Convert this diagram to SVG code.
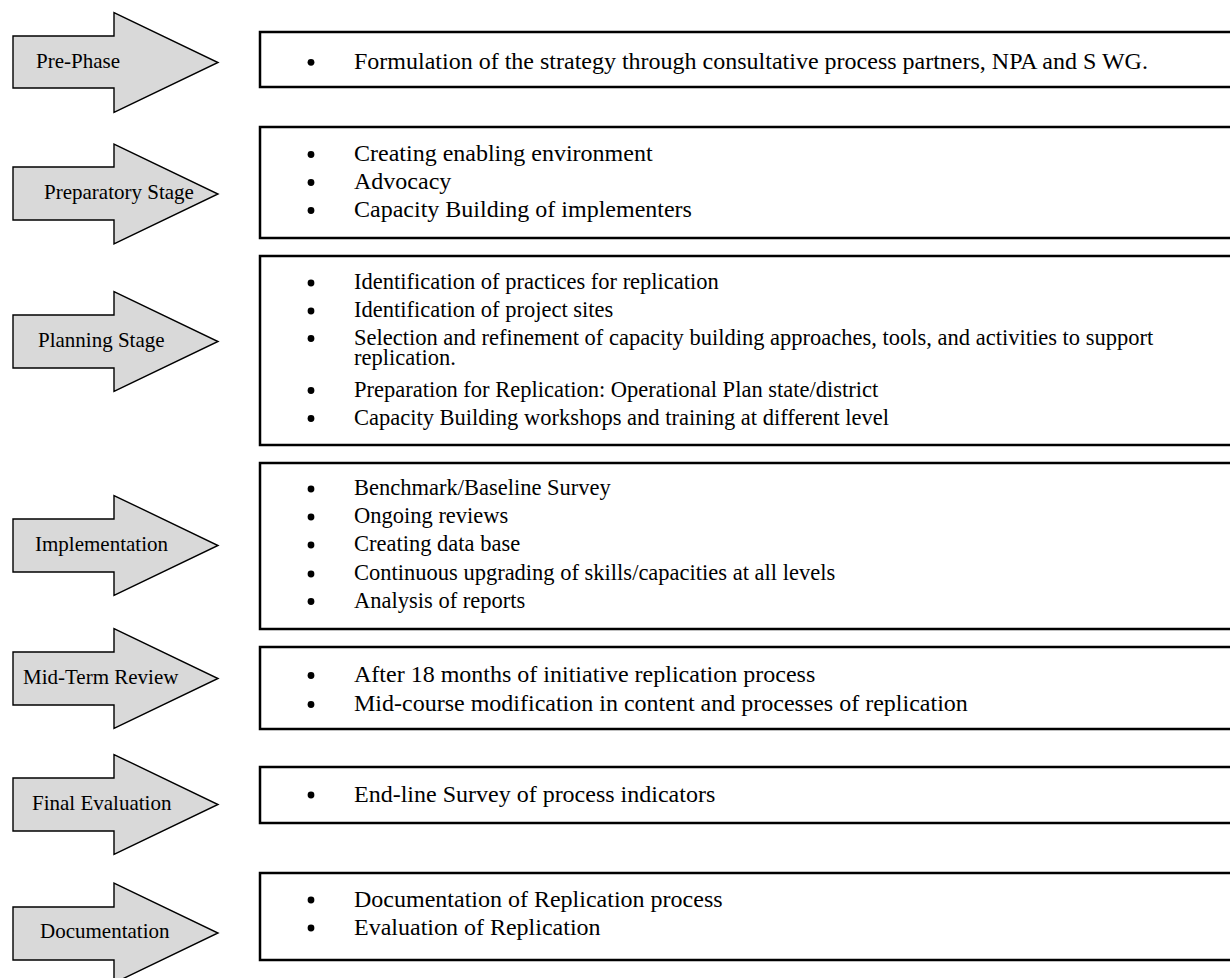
<svg xmlns="http://www.w3.org/2000/svg" width="1230" height="978" viewBox="0 0 1230 978">
<style>
  .arrow { fill: #d9d9d9; stroke: #000; stroke-width: 1.4; stroke-linejoin: miter; }
  .box { fill: #fff; stroke: #000; stroke-width: 2.5; }
  .lbl { font-family: "Liberation Serif", "Times New Roman", serif; font-size: 21px; fill: #000; }
  .txt { font-family: "Liberation Serif", "Times New Roman", serif; font-size: 24px; fill: #000; }
  .txs { font-family: "Liberation Serif", "Times New Roman", serif; font-size: 22.5px; fill: #000; }
  .bul { fill: #000; }
</style>
<rect x="0" y="0" width="1230" height="978" fill="#fff"/>

<g id="phase-pre">
  <path class="arrow" d="M13,36 L114,36 L114,12.5 L218,62.5 L114,112.5 L114,88 L13,88 Z"/>
  <text class="lbl" x="36" y="68">Pre-Phase</text>
</g>
<g id="box-pre">
  <rect class="box" x="260" y="32" width="990" height="55"/>
  <circle class="bul" cx="311" cy="62.3" r="3.4"/>
  <text class="txt" x="354" y="69">Formulation of the strategy through consultative process partners, NPA and S WG.</text>
</g>

<g id="phase-preparatory">
  <path class="arrow" d="M13,167 L114,167 L114,144 L218,194 L114,244 L114,220 L13,220 Z"/>
  <text class="lbl" x="44" y="199">Preparatory Stage</text>
</g>
<g id="box-preparatory">
  <rect class="box" x="260" y="127" width="990" height="111"/>
  <circle class="bul" cx="311" cy="154.5" r="3.4"/>
  <text class="txt" x="354" y="161">Creating enabling environment</text>
  <circle class="bul" cx="311" cy="182.5" r="3.4"/>
  <text class="txt" x="354" y="189">Advocacy</text>
  <circle class="bul" cx="311" cy="210.5" r="3.4"/>
  <text class="txt" x="354" y="217">Capacity Building of implementers</text>
</g>

<g id="phase-planning">
  <path class="arrow" d="M13,315 L114,315 L114,291.5 L218,341.5 L114,391.5 L114,368 L13,368 Z"/>
  <text class="lbl" x="38" y="347">Planning Stage</text>
</g>
<g id="box-planning">
  <rect class="box" x="260" y="256" width="990" height="189"/>
  <circle class="bul" cx="311" cy="283" r="3.4"/>
  <text class="txs" x="354" y="289">Identification of practices for replication</text>
  <circle class="bul" cx="311" cy="311" r="3.4"/>
  <text class="txs" x="354" y="317">Identification of project sites</text>
  <circle class="bul" cx="311" cy="338.5" r="3.4"/>
  <text class="txs" x="354" y="344.5">Selection and refinement of capacity building approaches, tools, and activities to support<tspan x="354" dy="20">replication.</tspan></text>
  <circle class="bul" cx="311" cy="390.5" r="3.4"/>
  <text class="txs" x="354" y="396.5">Preparation for Replication: Operational Plan state/district</text>
  <circle class="bul" cx="311" cy="418.5" r="3.4"/>
  <text class="txs" x="354" y="424.5">Capacity Building workshops and training at different level</text>
</g>

<g id="phase-implementation">
  <path class="arrow" d="M13,519 L114,519 L114,495.5 L218,545.5 L114,595.5 L114,572 L13,572 Z"/>
  <text class="lbl" x="35" y="551">Implementation</text>
</g>
<g id="box-implementation">
  <rect class="box" x="260" y="463" width="990" height="166"/>
  <circle class="bul" cx="311" cy="489" r="3.4"/>
  <text class="txs" x="354" y="495">Benchmark/Baseline Survey</text>
  <circle class="bul" cx="311" cy="517" r="3.4"/>
  <text class="txs" x="354" y="523">Ongoing reviews</text>
  <circle class="bul" cx="311" cy="545" r="3.4"/>
  <text class="txs" x="354" y="551">Creating data base</text>
  <circle class="bul" cx="311" cy="574" r="3.4"/>
  <text class="txs" x="354" y="580">Continuous upgrading of skills/capacities at all levels</text>
  <circle class="bul" cx="311" cy="601.5" r="3.4"/>
  <text class="txs" x="354" y="607.5">Analysis of reports</text>
</g>

<g id="phase-midterm">
  <path class="arrow" d="M13,652 L114,652 L114,628.5 L218,678.5 L114,728.5 L114,705 L13,705 Z"/>
  <text class="lbl" x="23" y="684">Mid-Term Review</text>
</g>
<g id="box-midterm">
  <rect class="box" x="260" y="647" width="990" height="82"/>
  <circle class="bul" cx="311" cy="675.5" r="3.4"/>
  <text class="txt" x="354" y="682">After 18 months of initiative replication process</text>
  <circle class="bul" cx="311" cy="704.5" r="3.4"/>
  <text class="txt" x="354" y="711">Mid-course modification in content and processes of replication</text>
</g>

<g id="phase-final">
  <path class="arrow" d="M13,778 L114,778 L114,754.5 L218,804.5 L114,854.5 L114,831 L13,831 Z"/>
  <text class="lbl" x="32" y="810">Final Evaluation</text>
</g>
<g id="box-final">
  <rect class="box" x="260" y="767" width="990" height="56"/>
  <circle class="bul" cx="311" cy="795" r="3.4"/>
  <text class="txt" x="354" y="801.5">End-line Survey of process indicators</text>
</g>

<g id="phase-documentation">
  <path class="arrow" d="M13,907 L114,907 L114,883 L218,933 L114,983 L114,960 L13,960 Z"/>
  <text class="lbl" x="40" y="938">Documentation</text>
</g>
<g id="box-documentation">
  <rect class="box" x="260" y="873" width="990" height="87"/>
  <circle class="bul" cx="311" cy="900" r="3.4"/>
  <text class="txt" x="354" y="906.5">Documentation of Replication process</text>
  <circle class="bul" cx="311" cy="928" r="3.4"/>
  <text class="txt" x="354" y="934.5">Evaluation of Replication</text>
</g>

<g id="connectors"></g>
</svg>
